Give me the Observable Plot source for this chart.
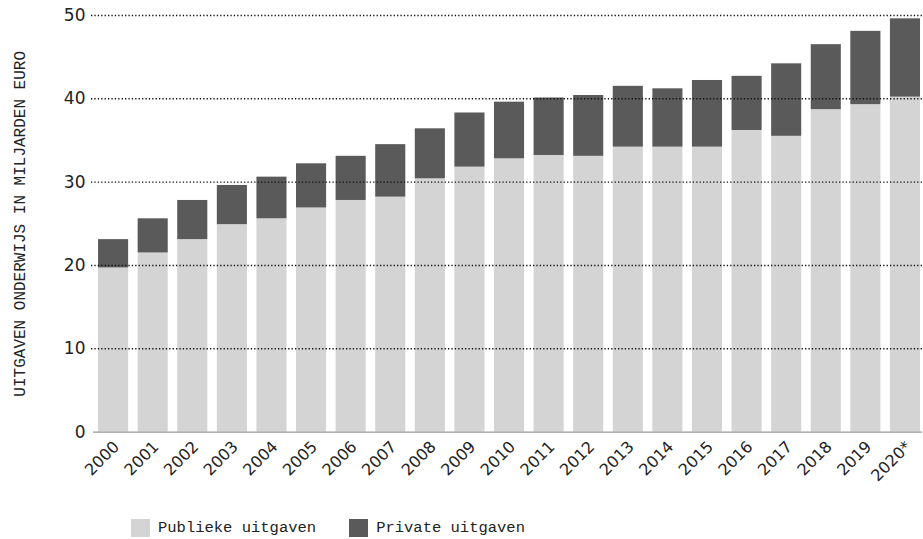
<!DOCTYPE html>
<html>
<head>
<meta charset="utf-8">
<script src="https://cdn.jsdelivr.net/npm/d3@7"></script>
<script src="https://cdn.jsdelivr.net/npm/@observablehq/plot@0.6"></script>
<style>
  body { margin: 0; background: #fff; width: 923px; height: 539px; overflow: hidden; position: relative; }
  #legend { position: absolute; left: 131px; top: 519px; display: flex; align-items: center; font-family: "Liberation Mono", "DejaVu Sans Mono", monospace; font-size: 15.5px; color: #222; }
  #legend .sw { width: 19px; height: 18px; display: inline-block; margin-right: 8px; }
  #legend .item { display: flex; align-items: center; margin-right: 33px; }
</style>
</head>
<body>
<div id="chart"></div>
<div id="legend"></div>
<script>
const years = ["2000","2001","2002","2003","2004","2005","2006","2007","2008","2009","2010","2011","2012","2013","2014","2015","2016","2017","2018","2019","2020*"];
const publiek = [19.7, 21.5, 23.1, 24.9, 25.6, 26.9, 27.8, 28.2, 30.4, 31.8, 32.8, 33.2, 33.1, 34.2, 34.2, 34.2, 36.2, 35.5, 38.7, 39.3, 40.2];
const privaat = [3.4, 4.1, 4.7, 4.7, 5.0, 5.3, 5.3, 6.3, 6.0, 6.5, 6.8, 6.9, 7.3, 7.3, 7.0, 8.0, 6.5, 8.7, 7.8, 8.8, 9.4];
const series = ["Publieke uitgaven", "Private uitgaven"];
const colors = ["#d4d4d4", "#5a5a5a"];
const yTicks = [0, 10, 20, 30, 40, 50];
const yTitle = "UITGAVEN ONDERWIJS IN MILJARDEN EURO";

const data = [];
years.forEach((y, i) => {
  data.push({year: y, serie: series[0], value: publiek[i]});
  data.push({year: y, serie: series[1], value: privaat[i]});
});

const chart = Plot.plot({
  width: 923,
  height: 500,
  marginTop: 15,
  marginBottom: 68.4,
  marginLeft: 91,
  marginRight: 1,
  style: { fontFamily: "DejaVu Sans, sans-serif", fontSize: "15px", color: "#222", background: "#fff" },
  x: { domain: years, paddingInner: 0.24, paddingOuter: 0.114, align: 0.78, round: false, label: null },
  y: { domain: [0, 50], ticks: yTicks, label: null },
  color: { domain: series, range: colors },
  marks: [
    Plot.barY(data, { x: "year", y: "value", fill: "serie", order: series }),
    Plot.ruleY(yTicks.filter(d => d > 0), { stroke: "#111", strokeWidth: 1.4, strokeDasharray: "1.3,2.1" }),
    Plot.ruleY([0], { stroke: "#9a9a9a", strokeWidth: 1.2, insetLeft: 2 }),
    Plot.axisY({ ticks: yTicks, tickSize: 0, tickPadding: 6, fontSize: 17, letterSpacing: 1, label: null, tickFormat: d => String(d) }),
    Plot.axisX({ tickSize: 0, tickRotate: -45, tickPadding: 12, dx: 3, fontSize: 16, label: null }),
    Plot.text([yTitle], { frameAnchor: "left", rotate: -90, dx: -72, text: d => d, fontFamily: "Liberation Mono, DejaVu Sans Mono, monospace", fontSize: 16, fill: "#222", textAnchor: "middle", lineAnchor: "middle" })
  ]
});
document.getElementById("chart").appendChild(chart);

const legend = document.getElementById("legend");
series.forEach((s, i) => {
  const item = document.createElement("span");
  item.className = "item";
  const sw = document.createElement("span");
  sw.className = "sw";
  sw.style.background = colors[i];
  item.appendChild(sw);
  item.appendChild(document.createTextNode(s));
  legend.appendChild(item);
});
</script>
</body>
</html>
